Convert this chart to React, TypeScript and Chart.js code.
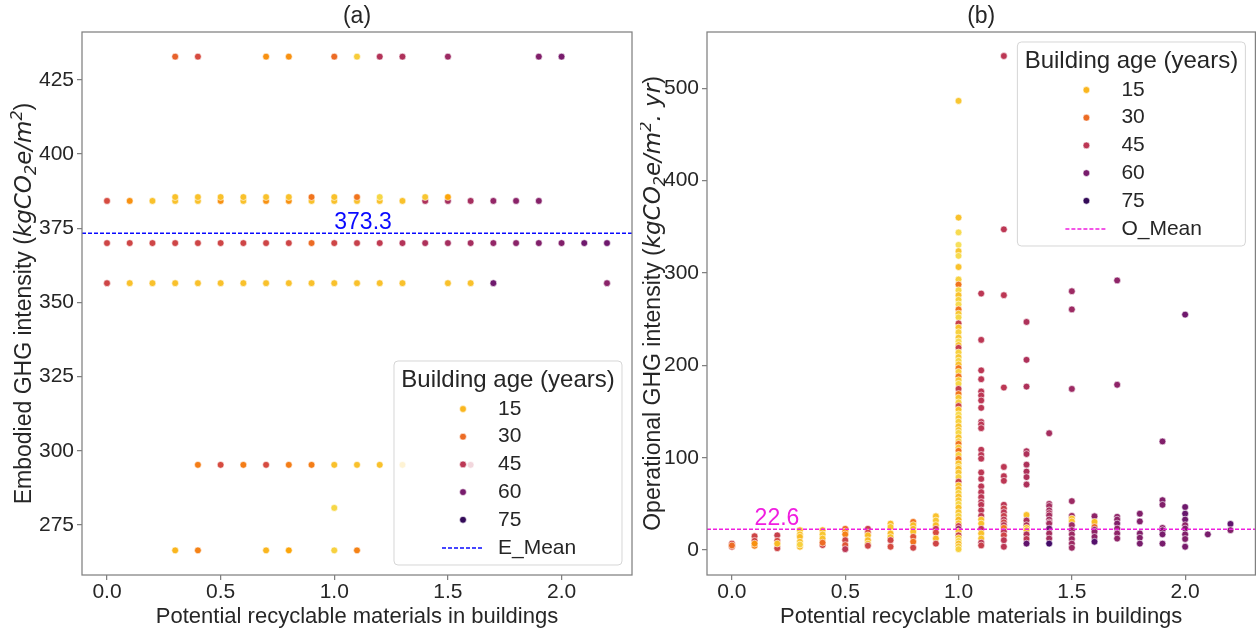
import React, { useEffect, useRef } from 'react';
import { Chart, registerables } from 'chart.js';

Chart.register(...registerables);

const FONT = "'Liberation Sans', Arial, sans-serif";
const MATH_FONT = "'DejaVu Sans', sans-serif";
const TEXT = '#262626';
const FRAME = '#808080';
const E_COLOR = '#0a0aff';
const O_COLOR = '#f01ee0';

// ---------- shared ticks / legend ----------
const xTicks = [0, 0.5, 1.0, 1.5, 2.0];
const embodiedTicks = [275, 300, 325, 350, 375, 400, 425];
const operationalTicks = [0, 100, 200, 300, 400, 500];
const legendAges = [15, 30, 45, 60, 75];
const legendTitle = 'Building age (years)';
const embodiedMean = 373.3;
const operationalMean = 22.6;
const xLabel = 'Potential recyclable materials in buildings';

// ---------- panel (a): embodied GHG, rows of points (x values + building ages) ----------
const emb432X = [0.3, 0.4, 0.7, 0.8, 1.0, 1.1, 1.2, 1.3, 1.5, 1.9, 2.0];
const emb432Age = [32, 38, 22, 22, 30, 11, 47, 48, 52, 58, 60];
const emb385X = [0.3, 0.4, 0.5, 0.6, 0.7, 0.8, 0.9, 1.0, 1.1, 1.2, 1.4, 1.5];
const emb385Age = [13, 13, 13, 13, 13, 13, 28, 13, 28, 9, 12, 18];
const emb384X = [0.0, 0.1, 0.2, 0.3, 0.4, 0.5, 0.6, 0.7, 0.8, 0.9, 1.0, 1.1, 1.2, 1.3, 1.4, 1.5, 1.6, 1.7, 1.8, 1.9];
const emb384Age = [38, 22, 13, 13, 13, 22, 13, 22, 22, 13, 13, 13, 13, 13, 48, 50, 50, 54, 56, 57];
const emb370X = [0.0, 0.1, 0.2, 0.3, 0.4, 0.5, 0.6, 0.7, 0.8, 0.9, 1.0, 1.1, 1.2, 1.3, 1.4, 1.5, 1.6, 1.7, 1.8, 1.9, 2.0, 2.1, 2.2];
const emb370Age = [40, 40, 40, 40, 40, 40, 40, 40, 40, 30, 40, 42, 44, 47, 48, 50, 50, 54, 56, 58, 58, 62, 62];
const emb356X = [0.0, 0.1, 0.2, 0.3, 0.4, 0.5, 0.6, 0.7, 0.8, 0.9, 1.0, 1.1, 1.2, 1.3, 1.5, 1.6, 1.7, 2.2];
const emb356Age = [40, 13, 13, 13, 13, 13, 13, 13, 13, 13, 13, 13, 13, 13, 13, 13, 62, 56];
const emb295X = [0.4, 0.5, 0.6, 0.7, 0.8, 0.9, 1.0, 1.1, 1.2, 1.3, 1.6];
const emb295Age = [26, 38, 26, 38, 26, 26, 13, 13, 13, 13, 45];
const emb281X = [1.0];
const emb281Age = [9];
const emb266X = [0.3, 0.4, 0.7, 0.8, 1.0, 1.1];
const emb266Age = [15, 25, 15, 18, 10, 25];

const embodiedRows: [number, number[], number[]][] = [
  [432.8, emb432X, emb432Age],
  [385.5, emb385X, emb385Age],
  [384.2, emb384X, emb384Age],
  [370.0, emb370X, emb370Age],
  [356.5, emb356X, emb356Age],
  [295.3, emb295X, emb295Age],
  [280.8, emb281X, emb281Age],
  [266.5, emb266X, emb266Age],
];

// ---------- panel (b): operational GHG, columns of [value, building age] ----------
const op00: [number, number][] = [[7, 40], [3.6, 38], [5, 30]];
const op01: [number, number][] = [[15, 40], [10, 40], [4.7, 25], [7, 22]];
const op02: [number, number][] = [[16, 42], [10, 38], [5.4, 14], [2, 40], [7, 14]];
const op03: [number, number][] = [[21.5, 13], [17, 12], [14.3, 14], [9, 13], [3.6, 14], [6, 10]];
const op04: [number, number][] = [[21.5, 14], [17, 12], [12.5, 13], [5.4, 40], [8, 30]];
const op05: [number, number][] = [[23, 30], [20, 22], [17, 25], [10.7, 40], [5.4, 35], [1, 45]];
const op06: [number, number][] = [[23, 42], [19, 38], [16, 14], [10.7, 14], [7, 12], [4.7, 40]];
const op07: [number, number][] = [[28.7, 14], [25, 12], [18, 14], [14, 13], [10.7, 40], [3.6, 38]];
const op08: [number, number][] = [[30.5, 28], [27, 14], [23, 14], [19.7, 13], [14.3, 35], [9, 28], [2.5, 40]];
const op09: [number, number][] = [[36.6, 13], [32, 12], [27, 14], [23, 42], [19, 38], [12.5, 14], [7, 40]];
const op10: [number, number][] = [
  [486.4, 12], [360, 13], [344, 8], [330.5, 7], [323.7, 12], [318.6, 8], [306.5, 13], [293, 10], [287.5, 28],
  [281.4, 9], [276, 13], [271, 10], [266, 8], [260.6, 28], [256, 12], [252, 9], [245.5, 42], [241, 13], [236, 10],
  [230, 12], [226, 8], [222, 13], [219, 42], [214, 10], [209, 12], [205, 9], [201, 13], [197, 28], [193, 10],
  [188, 28], [184, 12], [180, 9], [174.5, 42], [169, 28], [165, 12], [160, 10], [156, 40], [152, 13], [147, 8],
  [143, 12], [139, 10], [134, 13], [130, 12], [127, 9], [122, 13], [118, 10], [115, 28], [111, 12], [107.5, 28],
  [103, 10], [98.6, 28], [94, 13], [90, 9], [88, 14], [84, 12], [79, 10], [74, 42], [70, 13], [66, 14], [62, 10],
  [58, 13], [54, 12], [50, 9], [46, 13], [41, 12], [37, 10], [33, 14], [29, 13], [26, 40], [23, 52], [20, 12],
  [16, 42], [13, 13], [10, 9], [7, 14], [4, 12], [1, 10],
];
const op11: [number, number][] = [
  [277.8, 45], [227.6, 45], [194.6, 45], [185, 45], [171.7, 45], [167.4, 45], [162, 45], [154, 45], [138.7, 45],
  [136, 45], [132, 45], [108.6, 45], [103, 45], [99, 45], [84, 45], [77, 45], [69, 45], [62.7, 45], [57.3, 45],
  [52, 45], [49, 45], [43, 45], [37, 45], [33, 13], [28.7, 13], [23, 45], [18, 13], [12.5, 13], [8, 45], [5, 42],
];
const op12: [number, number][] = [
  [535, 45], [347.3, 45], [276, 45], [176, 45], [90, 45], [80, 45], [75, 45], [49, 45], [45, 42], [41, 45],
  [37, 42], [33, 45], [30, 40], [27, 45], [24, 28], [20, 45], [16, 40], [10.7, 45], [3.6, 45],
];
const op13: [number, number][] = [
  [247, 48], [206, 48], [177, 48], [107, 48], [104, 48], [92.5, 48], [85, 48], [79, 48], [71, 48], [38, 13],
  [32, 48], [27, 48], [24, 13], [21.5, 13], [17, 48], [12, 45], [7, 65],
];
const op14: [number, number][] = [
  [126.5, 50], [50, 50], [47.7, 50], [43, 50], [40, 48], [37.6, 50], [33, 50], [30, 48], [28.7, 50], [23.3, 62],
  [18, 50], [12.5, 50], [7, 72],
];
const op15: [number, number][] = [
  [280.3, 52], [260.6, 52], [174.5, 52], [53, 52], [37, 52], [34, 13], [31, 13], [27, 52], [21.5, 52], [17, 52],
  [12, 52], [7, 52], [2.5, 52],
];
const op16: [number, number][] = [[36.6, 55], [30.5, 14], [25, 30], [22, 52], [19.7, 55], [14.3, 55], [9, 68]];
const op17: [number, number][] = [[292, 55], [179, 55], [36, 55], [33, 55], [28.7, 58], [23.3, 55], [18, 55], [12.5, 55]];
const op18: [number, number][] = [[39.4, 58], [31, 58], [18, 58], [13.3, 58], [7, 60]];
const op19: [number, number][] = [[117.6, 58], [54, 58], [49, 58], [24, 55], [21.5, 58], [17, 60], [7, 60]];
const op20: [number, number][] = [[255, 62], [46.6, 62], [39.4, 64], [33, 62], [27, 55], [23.3, 58], [17, 58], [12, 58], [3.6, 60]];
const op21: [number, number][] = [[17, 60]];
const op22: [number, number][] = [[28.3, 65], [21.5, 58]];

const operationalColumns: [number, [number, number][]][] = [
  [0.0, op00], [0.1, op01], [0.2, op02], [0.3, op03], [0.4, op04], [0.5, op05], [0.6, op06], [0.7, op07],
  [0.8, op08], [0.9, op09], [1.0, op10], [1.1, op11], [1.2, op12], [1.3, op13], [1.4, op14], [1.5, op15],
  [1.6, op16], [1.7, op17], [1.8, op18], [1.9, op19], [2.0, op20], [2.1, op21], [2.2, op22],
];

// ---------- colour helpers (inferno reversed by building age) ----------
const INFERNO = ['#000004', '#160b39', '#420a68', '#6a176e', '#932667', '#bc3754', '#dd513a', '#f37819', '#fca50a', '#f6d746', '#fcffa4'];
function hexToRgb(h: string) {
  return [parseInt(h.slice(1, 3), 16), parseInt(h.slice(3, 5), 16), parseInt(h.slice(5, 7), 16)];
}
function ageColor(age: number) {
  const t = Math.min(1, Math.max(0, 1 - age / 90)) * (INFERNO.length - 1);
  const i = Math.min(INFERNO.length - 2, Math.floor(t));
  const f = t - i;
  const a = hexToRgb(INFERNO[i]);
  const b = hexToRgb(INFERNO[i + 1]);
  const c = a.map((v, k) => Math.round(v + (b[k] - v) * f));
  return `rgb(${c[0]},${c[1]},${c[2]})`;
}

type Seg = { t: string; it?: boolean; sub?: boolean; sup?: boolean };

function drawRotatedRich(ctx: CanvasRenderingContext2D, segs: Seg[], cx: number, cy: number, size: number) {
  ctx.save();
  ctx.translate(cx, cy);
  ctx.rotate(-Math.PI / 2);
  ctx.fillStyle = TEXT;
  ctx.textBaseline = 'alphabetic';
  ctx.textAlign = 'left';
  const fontOf = (s: Seg) =>
    `${s.it ? 'italic ' : ''}${s.sub || s.sup ? Math.round(size * 0.7) : size}px ${s.it ? MATH_FONT : FONT}`;
  let total = 0;
  const widths = segs.map((s) => {
    ctx.font = fontOf(s);
    const w = ctx.measureText(s.t).width;
    total += w;
    return w;
  });
  let x = -total / 2;
  const base = size * 0.36;
  segs.forEach((s, i) => {
    ctx.font = fontOf(s);
    const dy = s.sub ? size * 0.22 : s.sup ? -size * 0.42 : 0;
    ctx.fillText(s.t, x, base + dy);
    x += widths[i];
  });
  ctx.restore();
}

function drawLegend(ctx: CanvasRenderingContext2D, left: number, top: number, meanLabel: string, meanColor: string) {
  const w = 228;
  const h = 204;
  const r = 4;
  ctx.save();
  ctx.beginPath();
  ctx.moveTo(left + r, top);
  ctx.lineTo(left + w - r, top);
  ctx.quadraticCurveTo(left + w, top, left + w, top + r);
  ctx.lineTo(left + w, top + h - r);
  ctx.quadraticCurveTo(left + w, top + h, left + w - r, top + h);
  ctx.lineTo(left + r, top + h);
  ctx.quadraticCurveTo(left, top + h, left, top + h - r);
  ctx.lineTo(left, top + r);
  ctx.quadraticCurveTo(left, top, left + r, top);
  ctx.closePath();
  ctx.fillStyle = 'rgba(255,255,255,0.8)';
  ctx.fill();
  ctx.strokeStyle = 'rgba(204,204,204,0.8)';
  ctx.lineWidth = 1;
  ctx.stroke();

  ctx.fillStyle = TEXT;
  ctx.textBaseline = 'middle';
  ctx.textAlign = 'center';
  ctx.font = `24px ${FONT}`;
  ctx.fillText(legendTitle, left + w / 2, top + 19);

  ctx.font = `21px ${FONT}`;
  ctx.textAlign = 'left';
  legendAges.forEach((age, i) => {
    const y = top + 48 + i * 27.7;
    ctx.beginPath();
    ctx.arc(left + 69, y, 3.4, 0, Math.PI * 2);
    ctx.fillStyle = ageColor(age);
    ctx.fill();
    ctx.strokeStyle = '#ffffff';
    ctx.lineWidth = 0.6;
    ctx.stroke();
    ctx.fillStyle = TEXT;
    ctx.fillText(String(age), left + 104, y);
  });
  const my = Math.round(top + 48 + 5 * 27.7);
  ctx.beginPath();
  ctx.setLineDash([4, 2]);
  ctx.moveTo(left + 48, my);
  ctx.lineTo(left + 89, my);
  ctx.strokeStyle = meanColor;
  ctx.lineWidth = 1.5;
  ctx.stroke();
  ctx.setLineDash([]);
  ctx.fillStyle = TEXT;
  ctx.fillText(meanLabel, left + 104, my);
  ctx.restore();
}

type PanelCfg = {
  title: string;
  yTitle: Seg[];
  yTitleX: number;
  mean: number;
  meanColor: string;
  meanText: string;
  meanTextX: number;
  meanLabel: string;
  legendPos: 'bottom' | 'top';
};

function panelPlugin(cfg: PanelCfg) {
  return {
    id: 'panelDecor',
    afterDraw(chart: any) {
      const ctx: CanvasRenderingContext2D = chart.ctx;
      const a = chart.chartArea;
      const xs = chart.scales.x;
      const ys = chart.scales.y;
      ctx.save();
      // mean label
      ctx.fillStyle = cfg.meanColor;
      ctx.font = `23px ${FONT}`;
      ctx.textAlign = 'left';
      ctx.textBaseline = 'alphabetic';
      ctx.fillText(cfg.meanText, xs.getPixelForValue(cfg.meanTextX), ys.getPixelForValue(cfg.mean) - 4);
      // frame
      ctx.strokeStyle = FRAME;
      ctx.lineWidth = 1.25;
      ctx.strokeRect(a.left, a.top, a.right - a.left, a.bottom - a.top);
      // title
      ctx.fillStyle = TEXT;
      ctx.font = `23px ${FONT}`;
      ctx.textAlign = 'center';
      ctx.textBaseline = 'middle';
      ctx.fillText(cfg.title, (a.left + a.right) / 2, 17);
      // x title
      ctx.font = `22px ${FONT}`;
      ctx.fillText(xLabel, (a.left + a.right) / 2, 617);
      ctx.restore();
      // y title
      drawRotatedRich(ctx, cfg.yTitle, cfg.yTitleX, (a.top + a.bottom) / 2, 23);
      // legend
      const lx = a.right - 10 - 228;
      const ly = cfg.legendPos === 'bottom' ? a.bottom - 10 - 204 : a.top + 10;
      drawLegend(ctx, lx, ly, cfg.meanLabel, cfg.meanColor);
    },
  };
}

function scaleOptions(yMin: number, yMax: number, yTicks: number[], yWidth: number) {
  const grid = { display: true, drawOnChartArea: false, drawTicks: true, tickLength: 5, color: FRAME, lineWidth: 1.25 };
  const tickFont = { family: FONT, size: 21 };
  return {
    x: {
      type: 'linear',
      min: -0.11,
      max: 2.31,
      afterBuildTicks: (s: any) => {
        s.ticks = xTicks.map((v) => ({ value: v }));
      },
      afterFit: (s: any) => {
        s.height = 57;
      },
      ticks: { callback: (v: any) => Number(v).toFixed(1), font: tickFont, color: TEXT, padding: 0, maxRotation: 0, autoSkip: false },
      grid,
      border: { display: false },
    },
    y: {
      type: 'linear',
      min: yMin,
      max: yMax,
      afterBuildTicks: (s: any) => {
        s.ticks = yTicks.map((v) => ({ value: v }));
      },
      afterFit: (s: any) => {
        s.width = yWidth;
      },
      ticks: { callback: (v: any) => String(v), font: tickFont, color: TEXT, padding: 3, autoSkip: false },
      grid,
      border: { display: false },
    },
  };
}

const pointStyle = { pointRadius: 3.4, pointBorderColor: '#ffffff', pointBorderWidth: 0.6, showLine: false };

export default function App() {
  const refA = useRef<HTMLCanvasElement>(null);
  const refB = useRef<HTMLCanvasElement>(null);

  useEffect(() => {
    document.body.style.margin = '0';
    document.body.style.overflow = 'hidden';

    const embodiedDatasets: any[] = [
      {
        type: 'line',
        data: [{ x: -0.11, y: embodiedMean }, { x: 2.31, y: embodiedMean }],
        borderColor: E_COLOR,
        borderWidth: 1.5,
        borderDash: [4, 2],
        pointRadius: 0,
      },
      ...embodiedRows.map(([yv, xsArr, ages]) => ({
        type: 'scatter',
        data: xsArr.map((x) => ({ x, y: yv })),
        pointBackgroundColor: ages.map(ageColor),
        ...pointStyle,
      })),
    ];

    const operationalDatasets: any[] = [
      {
        type: 'line',
        data: [{ x: -0.11, y: operationalMean }, { x: 2.31, y: operationalMean }],
        borderColor: O_COLOR,
        borderWidth: 1.5,
        borderDash: [4, 2],
        pointRadius: 0,
      },
      ...operationalColumns
        .slice()
        .reverse()
        .map(([xv, pts]) => ({
          type: 'scatter',
          data: pts.map(([v]) => ({ x: xv, y: v })),
          pointBackgroundColor: pts.map(([, age]) => ageColor(age)),
          ...pointStyle,
        })),
    ];

    const common = {
      responsive: false,
      animation: false,
      devicePixelRatio: 1,
      events: [],
      plugins: { legend: { display: false }, tooltip: { enabled: false }, title: { display: false } },
    };

    const chartA = new Chart(refA.current as HTMLCanvasElement, {
      type: 'scatter',
      data: { datasets: embodiedDatasets },
      options: {
        ...common,
        layout: { padding: { left: 0, right: 8, top: 32, bottom: 0 } },
        scales: scaleOptions(258.2, 441.1, embodiedTicks, 82) as any,
      } as any,
      plugins: [
        panelPlugin({
          title: '(a)',
          yTitle: [{ t: 'Embodied GHG intensity (' }, { t: 'kgCO', it: true }, { t: '2', it: true, sub: true }, { t: 'e/m', it: true }, { t: '2', it: true, sup: true }, { t: ')' }],
          yTitleX: 23,
          mean: embodiedMean,
          meanColor: E_COLOR,
          meanText: embodiedMean.toFixed(1),
          meanTextX: 1.0,
          meanLabel: 'E_Mean',
          legendPos: 'bottom',
        }),
      ],
    } as any);

    const chartB = new Chart(refB.current as HTMLCanvasElement, {
      type: 'scatter',
      data: { datasets: operationalDatasets },
      options: {
        ...common,
        layout: { padding: { left: 0, right: 2, top: 32, bottom: 0 } },
        scales: scaleOptions(-27, 561, operationalTicks, 67) as any,
      } as any,
      plugins: [
        panelPlugin({
          title: '(b)',
          yTitle: [
            { t: 'Operational GHG intensity (' },
            { t: 'kgCO', it: true },
            { t: '2', it: true, sub: true },
            { t: 'e/m', it: true },
            { t: '2', it: true, sup: true },
            { t: '. ', it: true },
            { t: 'yr', it: true },
            { t: ')' },
          ],
          yTitleX: 12,
          mean: operationalMean,
          meanColor: O_COLOR,
          meanText: operationalMean.toFixed(1),
          meanTextX: 0.1,
          meanLabel: 'O_Mean',
          legendPos: 'top',
        }),
      ],
    } as any);

    return () => {
      chartA.destroy();
      chartB.destroy();
    };
  }, []);

  return (
    <div style={{ position: 'relative', width: 1256, height: 632, overflow: 'hidden', background: '#ffffff' }}>
      <canvas ref={refA} width={640} height={632} style={{ position: 'absolute', left: 0, top: 0, width: 640, height: 632 }} />
      <canvas ref={refB} width={620} height={632} style={{ position: 'absolute', left: 640, top: 0, width: 620, height: 632 }} />
    </div>
  );
}
